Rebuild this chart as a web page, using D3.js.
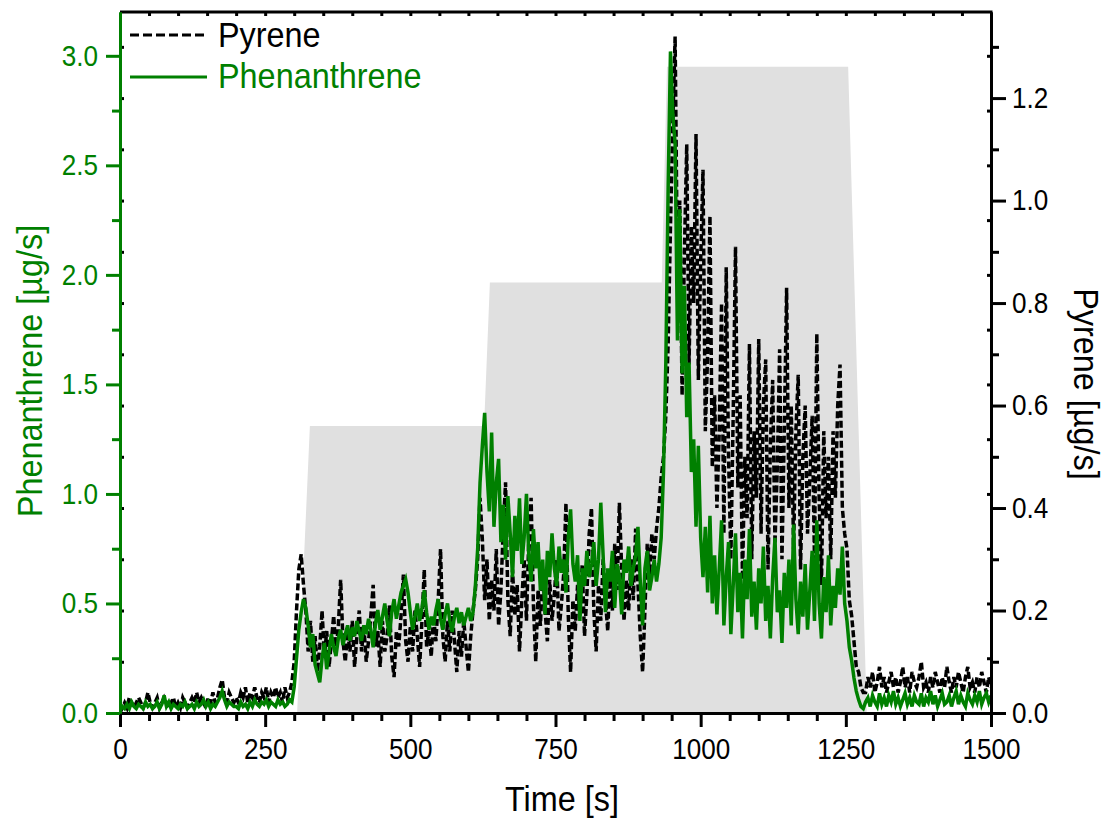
<!DOCTYPE html>
<html>
<head>
<meta charset="utf-8">
<script src="https://cdn.jsdelivr.net/npm/d3@7/dist/d3.min.js"></script>
<style>
body { margin: 0; background: #fff; }
svg text { font-family: "Liberation Sans", Arial, sans-serif; }
</style>
</head>
<body>
<div id="chartDiv"></div>
<script>
// samples every 4 s, split into the phases of the run
var sampleStep = 4;
var segmentStarts = [0, 300, 620, 936, 1004, 1252, 1284];

// Phenanthrene [ug/s] (left axis)
var phenBaseA = [0.01,0.03,0.02,0.04,0.02,0.05,0.03,0.02,0.04,0.03,0.02,0.05,0.03,0.04,0.02,0.03,0.05,0.02,0.04,0.08,0.03,0.05,0.02,0.04,0.03,
	0.02,0.04,0.03,0.05,0.02,0.03,0.04,0.02,0.05,0.03,0.04,0.06,0.03,0.05,0.02,0.04,0.03,0.05,0.07,0.10,0.06,0.03,0.05,0.04,0.03,
	0.03,0.02,0.05,0.03,0.04,0.02,0.05,0.03,0.06,0.04,0.03,0.05,0.04,0.06,0.03,0.05,0.04,0.03,0.06,0.04,0.05,0.03,0.04,0.06,0.05];
var phenStep1 = [0.12,0.25,0.38,0.46,0.52,0.48,0.40,0.30,0.36,0.22,
	0.18,0.14,0.25,0.32,0.20,0.28,0.36,0.30,0.26,0.34,
	0.38,0.31,0.36,0.40,0.33,0.39,0.35,0.42,0.37,0.33,
	0.40,0.36,0.43,0.38,0.30,0.41,0.47,0.38,0.44,0.50,
	0.42,0.35,0.46,0.52,0.43,0.49,0.55,0.58,0.61,0.55,
	0.46,0.38,0.44,0.50,0.42,0.48,0.56,0.46,0.38,0.44,
	0.40,0.47,0.52,0.43,0.38,0.45,0.50,0.42,0.37,0.44,
	0.48,0.41,0.46,0.40,0.44,0.48,0.42,0.46,0.58,0.75];
var phenStep2 = [1.05,1.22,1.37,1.10,0.92,1.28,0.85,1.05,1.16,0.78,
	0.95,0.70,0.99,0.82,0.62,0.90,0.74,0.98,0.68,0.80,
	1.00,0.72,0.60,0.84,0.66,0.78,0.56,0.70,0.45,0.74,
	0.62,0.82,0.66,0.58,0.76,0.64,0.70,0.55,0.80,0.93,
	0.68,0.60,0.72,0.42,0.66,0.58,0.74,0.62,0.68,0.78,
	0.58,0.70,0.96,0.72,0.46,0.66,0.60,0.74,0.48,0.68,
	0.62,0.45,0.70,0.64,0.76,0.58,0.66,0.72,0.85,0.60,
	0.40,0.66,0.74,0.56,0.62,0.70,0.60,0.68,0.80];
var phenPeak = [1.10,1.60,2.40,3.02,2.73,2.60,1.70,2.30,1.55,1.95,1.35,1.60,1.10,1.25,0.85,1.22,0.80];
var phenStep3 = [0.62,0.85,0.55,0.90,0.50,0.72,0.45,0.66,0.88,0.40,
	0.62,0.78,0.36,0.58,0.82,0.46,0.64,0.34,0.70,0.52,
	0.84,0.44,0.60,0.38,0.66,0.50,0.76,0.42,0.58,0.34,
	0.62,0.80,0.46,0.56,0.32,0.64,0.48,0.70,0.40,0.86,
	0.52,0.36,0.60,0.44,0.68,0.38,0.56,0.74,0.42,0.88,
	0.50,0.34,0.62,0.46,0.72,0.40,0.58,0.48,0.66,0.54,
	0.76,0.50];
var phenFall = [0.42,0.30,0.24,0.16,0.10,0.06,0.03,0.02];
var phenBaseB = [0.05,0.07,0.03,0.08,0.05,0.03,0.09,0.04,0.07,0.03,
	0.08,0.05,0.10,0.04,0.07,0.03,0.06,0.09,0.04,0.07,
	0.03,0.08,0.05,0.04,0.09,0.03,0.07,0.05,0.10,0.04,
	0.08,0.03,0.06,0.09,0.04,0.05,0.08,0.03,0.07,0.10,
	0.04,0.08,0.05,0.03,0.09,0.06,0.04,0.08,0.05,0.10,
	0.04,0.07,0.09,0.05,0.08];

// Pyrene [ug/s] (right axis)
var pyrBaseA = [0.00,0.01,0.02,0.01,0.03,0.02,0.01,0.02,0.03,0.02,0.01,0.02,0.04,0.02,0.01,0.02,0.03,0.01,0.02,0.03,0.02,0.01,0.02,0.03,0.01,
	0.02,0.01,0.03,0.02,0.01,0.02,0.03,0.02,0.04,0.02,0.03,0.02,0.01,0.03,0.02,0.04,0.02,0.03,0.05,0.065,0.03,0.02,0.04,0.03,0.02,
	0.03,0.02,0.04,0.03,0.05,0.02,0.04,0.03,0.05,0.03,0.02,0.04,0.03,0.05,0.02,0.04,0.03,0.05,0.03,0.04,0.02,0.05,0.03,0.04,0.06];
var pyrStep1 = [0.10,0.20,0.28,0.31,0.25,0.20,0.12,0.18,0.10,0.15,
	0.08,0.13,0.20,0.11,0.16,0.09,0.14,0.19,0.12,0.17,
	0.26,0.14,0.10,0.16,0.12,0.18,0.09,0.15,0.20,0.12,
	0.17,0.10,0.14,0.19,0.25,0.13,0.16,0.09,0.18,0.12,
	0.15,0.21,0.11,0.07,0.16,0.13,0.19,0.27,0.14,0.10,
	0.17,0.12,0.20,0.15,0.09,0.18,0.28,0.13,0.16,0.11,
	0.19,0.14,0.22,0.32,0.15,0.10,0.18,0.12,0.20,0.14,
	0.08,0.16,0.11,0.18,0.13,0.08,0.15,0.20,0.24,0.30];
var pyrStep2 = [0.42,0.34,0.22,0.30,0.18,0.26,0.20,0.32,0.17,0.24,
	0.36,0.45,0.22,0.15,0.28,0.19,0.25,0.12,0.22,0.30,
	0.18,0.34,0.42,0.21,0.10,0.24,0.17,0.28,0.20,0.14,
	0.26,0.18,0.23,0.30,0.16,0.21,0.27,0.41,0.19,0.08,
	0.22,0.16,0.25,0.19,0.29,0.15,0.23,0.35,0.40,0.20,
	0.12,0.25,0.18,0.30,0.22,0.16,0.27,0.20,0.33,0.24,
	0.41,0.28,0.18,0.26,0.20,0.30,0.22,0.36,0.25,0.15,
	0.08,0.20,0.33,0.27,0.35,0.30,0.36,0.40,0.46];
var pyrPeak = [0.50,0.58,0.72,0.95,1.15,1.32,0.85,1.00,0.62,0.90,1.11,0.68,0.95,0.80,1.13,0.65,0.88];
var pyrStep3 = [1.06,0.55,0.70,0.97,0.48,0.62,0.40,0.55,0.80,0.35,
	0.87,0.50,0.30,0.58,0.91,0.44,0.62,0.26,0.50,0.38,
	0.72,0.30,0.55,0.42,0.73,0.35,0.60,0.69,0.28,0.52,
	0.65,0.33,0.48,0.71,0.30,0.55,0.83,0.40,0.60,0.32,
	0.55,0.66,0.28,0.50,0.60,0.35,0.46,0.58,0.30,0.74,
	0.42,0.25,0.55,0.38,0.50,0.30,0.55,0.42,0.60,0.68,
	0.40,0.35];
var pyrFall = [0.32,0.22,0.19,0.14,0.09,0.08,0.05,0.04];
var pyrBaseB = [0.04,0.07,0.05,0.08,0.04,0.06,0.09,0.05,0.07,0.04,
	0.06,0.08,0.05,0.07,0.04,0.06,0.09,0.05,0.07,0.04,
	0.08,0.06,0.05,0.07,0.10,0.05,0.06,0.04,0.07,0.05,
	0.08,0.06,0.04,0.07,0.05,0.09,0.06,0.04,0.07,0.05,
	0.08,0.06,0.04,0.07,0.09,0.05,0.06,0.04,0.07,0.05,
	0.08,0.06,0.04,0.07,0.05];

// grey background: dosing steps, in phenanthrene units
var stepTimes = [0, 305, 327, 627, 637, 933, 942, 1254, 1286, 1500];
var stepLevels = [0, 0, 1.31, 1.31, 1.965, 1.965, 2.95, 2.95, 0, 0];

var timeTicks = [0, 250, 500, 750, 1000, 1250, 1500];
var phenTicks = [0, 0.5, 1.0, 1.5, 2.0, 2.5, 3.0];
var pyrTicks = [0, 0.2, 0.4, 0.6, 0.8, 1.0, 1.2];

var green = "#008000";
var squeeze = 0.9; // the original font is a bit narrower than Arial

function buildSeries(segments){
	var pts = [];
	for(var k = 0; k < segments.length; k++){
		for(var i = 0; i < segments[k].length; i++){
			pts.push({t: segmentStarts[k] + i * sampleStep, v: segments[k][i]});
		}
	}
	return pts;
}

function minorTicks(lo, hi, step, majors){
	var out = [];
	for(var v = lo; v <= hi + 1e-9; v += step){
		var r = Math.round(v * 1000) / 1000;
		var isMajor = majors.some(function(m){ return Math.abs(m - r) < 1e-6; });
		if(!isMajor) out.push(r);
	}
	return out;
}

function styleAxis(g, color, width){
	g.select(".domain").attr("stroke", color).attr("stroke-width", width);
	g.selectAll(".tick line").attr("stroke", color).attr("stroke-width", width);
}

function drawChart(){
	var width = 1108, height = 820;
	var plot = {left: 120, right: 991, top: 12, bottom: 713};

	var svg = d3.select("#chartDiv")
	  .append("svg")
	    .attr("width", width)
	    .attr("height", height);

	var x = d3.scaleLinear().domain([0, 1500]).range([plot.left, plot.right]);
	var yPhen = d3.scaleLinear().domain([0, 3.2]).range([plot.bottom, plot.top]);
	var yPyr = d3.scaleLinear().domain([0, 1.368]).range([plot.bottom, plot.top]);

	svg.append("clipPath").attr("id", "plotClip")
	  .append("rect")
	    .attr("x", plot.left).attr("y", plot.top)
	    .attr("width", plot.right - plot.left).attr("height", plot.bottom - plot.top);

	// grey steps
	var steps = stepTimes.map(function(t, i){ return {t: t, v: stepLevels[i]}; });
	svg.append("path")
	  .datum(steps)
	  .attr("fill", "#e0e0e0")
	  .attr("d", d3.area()
	      .x(function(d){ return x(d.t); })
	      .y0(yPhen(0))
	      .y1(function(d){ return yPhen(d.v); }));

	var pyrene = buildSeries([pyrBaseA, pyrStep1, pyrStep2, pyrPeak, pyrStep3, pyrFall, pyrBaseB]);
	var phen = buildSeries([phenBaseA, phenStep1, phenStep2, phenPeak, phenStep3, phenFall, phenBaseB]);

	var lines = svg.append("g").attr("clip-path", "url(#plotClip)");
	lines.append("path")
	  .datum(pyrene)
	  .attr("fill", "none")
	  .attr("stroke", "#000")
	  .attr("stroke-width", 3.5)
	  .attr("stroke-dasharray", "7,3")
	  .attr("d", d3.line().x(function(d){ return x(d.t); }).y(function(d){ return yPyr(d.v); }));
	lines.append("path")
	  .datum(phen)
	  .attr("fill", "none")
	  .attr("stroke", green)
	  .attr("stroke-width", 3.5)
	  .attr("d", d3.line().x(function(d){ return x(d.t); }).y(function(d){ return yPhen(d.v); }));

	var tickFont = 29;

	// inner mirror ticks
	var gTopIn = svg.append("g").attr("transform", "translate(0," + plot.top + ")")
	  .call(d3.axisBottom(x).tickValues(minorTicks(50, 1450, 50, [])).tickSize(4).tickFormat(""));
	gTopIn.select(".domain").remove();
	styleAxis(gTopIn, "#000", 3);
	var gLeftIn = svg.append("g").attr("transform", "translate(" + plot.left + ",0)")
	  .call(d3.axisRight(yPyr).tickValues(minorTicks(0.1, 1.3, 0.1, [])).tickSize(4).tickFormat(""));
	gLeftIn.select(".domain").remove();
	styleAxis(gLeftIn, "#000", 3);
	var gRightIn = svg.append("g").attr("transform", "translate(" + plot.right + ",0)")
	  .call(d3.axisLeft(yPhen).tickValues(minorTicks(0.25, 3.0, 0.25, [])).tickSize(4).tickFormat(""));
	gRightIn.select(".domain").remove();
	styleAxis(gRightIn, "#000", 3);

	// top frame
	svg.append("line")
	  .attr("x1", plot.left).attr("x2", plot.right + 1.5)
	  .attr("y1", plot.top).attr("y2", plot.top)
	  .attr("stroke", "#000").attr("stroke-width", 3);

	// bottom axis
	var gBottomMinor = svg.append("g").attr("transform", "translate(0," + plot.bottom + ")")
	  .call(d3.axisBottom(x).tickValues(minorTicks(0, 1500, 50, timeTicks)).tickSize(8).tickSizeOuter(0).tickFormat(""));
	styleAxis(gBottomMinor, "#000", 3);
	var gBottom = svg.append("g").attr("transform", "translate(0," + plot.bottom + ")")
	  .call(d3.axisBottom(x).tickValues(timeTicks).tickSize(14).tickSizeOuter(0).tickPadding(11).tickFormat(d3.format("d")));
	styleAxis(gBottom, "#000", 3);
	gBottom.selectAll("text")
	  .attr("fill", "#000")
	  .style("font-size", tickFont + "px")
	  .attr("transform", "scale(" + squeeze + ",1)");

	// left axis (phenanthrene)
	var gLeftMinor = svg.append("g").attr("transform", "translate(" + plot.left + ",0)")
	  .call(d3.axisLeft(yPhen).tickValues(minorTicks(0.25, 3.0, 0.25, phenTicks)).tickSize(8).tickSizeOuter(0).tickFormat(""));
	styleAxis(gLeftMinor, green, 3);
	var gLeft = svg.append("g").attr("transform", "translate(" + plot.left + ",0)")
	  .call(d3.axisLeft(yPhen).tickValues(phenTicks).tickSize(14).tickSizeOuter(0).tickPadding(8).tickFormat(d3.format(".1f")));
	styleAxis(gLeft, green, 3);
	gLeft.selectAll("text")
	  .attr("fill", green)
	  .style("font-size", tickFont + "px")
	  .attr("x", -22 / squeeze)
	  .attr("transform", "scale(" + squeeze + ",1)");

	// right axis (pyrene)
	var gRightMinor = svg.append("g").attr("transform", "translate(" + plot.right + ",0)")
	  .call(d3.axisRight(yPyr).tickValues(minorTicks(0.1, 1.3, 0.2, pyrTicks)).tickSize(8).tickSizeOuter(0).tickFormat(""));
	styleAxis(gRightMinor, "#000", 3);
	var gRight = svg.append("g").attr("transform", "translate(" + plot.right + ",0)")
	  .call(d3.axisRight(yPyr).tickValues(pyrTicks).tickSize(15).tickSizeOuter(0).tickPadding(6).tickFormat(d3.format(".1f")));
	styleAxis(gRight, "#000", 3);
	gRight.selectAll("text")
	  .attr("fill", "#000")
	  .style("font-size", tickFont + "px")
	  .attr("x", 21 / squeeze)
	  .attr("transform", "scale(" + squeeze + ",1)");

	// axis titles
	var titleFont = 36;
	svg.append("text")
	  .attr("transform", "translate(562,811) scale(" + squeeze + ",1)")
	  .attr("text-anchor", "middle")
	  .style("font-size", titleFont + "px")
	  .text("Time [s]");
	svg.append("text")
	  .attr("transform", "translate(42,371) rotate(-90) scale(" + squeeze + ",1)")
	  .attr("text-anchor", "middle")
	  .attr("fill", green)
	  .style("font-size", titleFont + "px")
	  .text("Phenanthrene [µg/s]");
	svg.append("text")
	  .attr("transform", "translate(1074,384) rotate(90) scale(" + squeeze + ",1)")
	  .attr("text-anchor", "middle")
	  .style("font-size", titleFont + "px")
	  .text("Pyrene [µg/s]");

	// legend
	svg.append("line")
	  .attr("x1", 130).attr("x2", 207).attr("y1", 35).attr("y2", 35)
	  .attr("stroke", "#000").attr("stroke-width", 3).attr("stroke-dasharray", "9,4");
	svg.append("text")
	  .attr("transform", "translate(218,47) scale(" + squeeze + ",1)")
	  .style("font-size", titleFont + "px")
	  .text("Pyrene");
	svg.append("line")
	  .attr("x1", 130).attr("x2", 207).attr("y1", 77).attr("y2", 77)
	  .attr("stroke", green).attr("stroke-width", 3);
	svg.append("text")
	  .attr("transform", "translate(218,88) scale(" + squeeze + ",1)")
	  .attr("fill", green)
	  .style("font-size", titleFont + "px")
	  .text("Phenanthrene");
}

drawChart();
</script>
</body>
</html>
